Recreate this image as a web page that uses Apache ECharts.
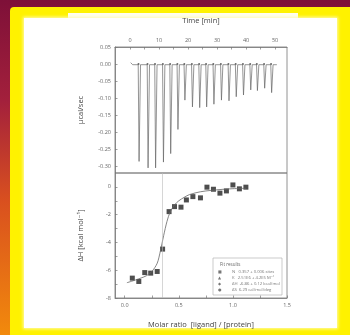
<!DOCTYPE html>
<html>
<head>
<meta charset="utf-8">
<script src="https://cdn.jsdelivr.net/npm/echarts@6/dist/echarts.min.js"></script>
<style>
  html, body { margin: 0; padding: 0; }
  body {
    width: 350px; height: 335px; overflow: hidden; position: relative;
    background: linear-gradient(180deg, #7e1038 0%, #a3203c 30%, #d9501f 60%, #f28a0c 100%);
  }
  #yellow { position: absolute; left: 10px; top: 7px; width: 345px; height: 335px; background: #fff200; border-radius: 4px 0 0 0; }
  #white { position: absolute; left: 24px; top: 18px; width: 313px; height: 310px; background: #fff; box-shadow: 0 0 3px 1px #fffbb0; }
  #white2 { position: absolute; left: 68px; top: 13px; width: 230px; height: 10px; background: #fffef0; }
  #chart { position: absolute; left: 0; top: 0; width: 350px; height: 335px; filter: blur(0.5px); }
</style>
</head>
<body>
<div id="yellow"></div>
<div id="white2"></div>
<div id="white"></div>
<div id="chart"></div>
<script>
// raw thermogram: injection times (min) and peak heights (µcal/sec)
const injTimes = [2.9, 6.0, 8.6, 11.3, 13.8, 16.3, 18.7, 21.3, 23.8, 26.2, 28.7, 31.3, 33.9, 36.4, 38.9, 41.4, 43.7, 46.2, 48.6];
const injPeaks = [-0.286, -0.305, -0.305, -0.288, -0.263, -0.192, -0.106, -0.126, -0.128, -0.126, -0.118, -0.106, -0.108, -0.096, -0.091, -0.076, -0.078, -0.071, -0.084];

// integrated heats
const molarRatio = [0.07, 0.13, 0.185, 0.24, 0.30, 0.35, 0.41, 0.46, 0.52, 0.57, 0.63, 0.70, 0.76, 0.82, 0.88, 0.94, 1.00, 1.06, 1.12];
const deltaH = [-6.57, -6.81, -6.17, -6.21, -6.09, -4.48, -1.78, -1.42, -1.46, -0.94, -0.70, -0.79, -0.02, -0.17, -0.45, -0.29, 0.14, -0.14, -0.02];

// fitted curve
const fitX = [0.02, 0.10, 0.20, 0.25, 0.30, 0.33, 0.36, 0.39, 0.42, 0.46, 0.50, 0.55, 0.60, 0.70, 0.80, 0.90, 1.00, 1.12];
const fitY = [-6.9, -6.7, -6.4, -6.1, -5.5, -4.6, -3.5, -2.5, -1.8, -1.3, -1.0, -0.75, -0.55, -0.35, -0.25, -0.18, -0.13, -0.10];

const timeTicks = [0, 10, 20, 30, 40, 50];
const powerTicks = [0.05, 0, -0.05, -0.10, -0.15, -0.20, -0.25, -0.30];
const ratioTicks = [0, 0.5, 1.0, 1.5];
const heatTicks = [-8, -6, -4, -2, 0];
const stoich = 0.35;

const legendTitle = 'Fit results';
const legendRows = [
  ['\u25A0', 'N   0.357 \u00B1 0.006 sites'],
  ['\u25B2', 'K   2.51E6 \u00B1 4.2E5 M\u207B\u00B9'],
  ['\u25C6', '\u0394H  -6.86 \u00B1 0.12 kcal/mol'],
  ['\u25CF', '\u0394S  6.29 cal/mol/deg']
];

// trace built from the read peaks
const base = -0.002;
const trace = [[0.2, 0.004], [0.5, 0.009], [0.9, base]];
injTimes.forEach((t, i) => {
  trace.push([t - 0.1, base], [t + 0.2, injPeaks[i]], [t + 0.7, base]);
});
trace.push([50.6, base]);

const font = 'Open Sans, DejaVu Sans, sans-serif';
const axisLine = { show: true, onZero: false, lineStyle: { color: '#777', width: 0.8 } };
const tick = { show: true, inside: true, length: 2.5, lineStyle: { color: '#777', width: 0.7 } };
const lbl = { color: '#666', fontSize: 5.5, fontFamily: font, margin: 4 };
const nameStyle = { color: '#444', fontSize: 7.5, fontFamily: font };

const chart = echarts.init(document.getElementById('chart'), null, { renderer: 'canvas' });
chart.setOption({
  animation: false,
  backgroundColor: 'transparent',
  grid: [
    { left: 115, top: 47, width: 172, height: 126, show: true, borderColor: '#777', borderWidth: 0.8, backgroundColor: 'transparent' },
    { left: 115, top: 173, width: 172, height: 125, show: true, borderColor: '#777', borderWidth: 0.8, backgroundColor: 'transparent' }
  ],
  xAxis: [
    {
      gridIndex: 0, type: 'value', position: 'top', min: -5.2, max: 54.1,
      name: 'Time [min]', nameLocation: 'middle', nameGap: 22, nameTextStyle: nameStyle,
      axisLine, splitLine: { show: false },
      axisTick: Object.assign({}, tick, { customValues: [0, 5, 10, 15, 20, 25, 30, 35, 40, 45, 50] }),
      axisLabel: Object.assign({}, lbl, { customValues: timeTicks })
    },
    {
      gridIndex: 1, type: 'value', position: 'bottom', min: -0.09, max: 1.5,
      name: 'Molar ratio  [ligand] / [protein]', nameLocation: 'middle', nameGap: 23, nameTextStyle: nameStyle,
      axisLine, splitLine: { show: false },
      axisTick: Object.assign({}, tick, { customValues: [0, 0.25, 0.5, 0.75, 1.0, 1.25, 1.5] }),
      axisLabel: Object.assign({}, lbl, { customValues: ratioTicks, formatter: v => v.toFixed(1) })
    }
  ],
  yAxis: [
    {
      gridIndex: 0, type: 'value', position: 'left', min: -0.32, max: 0.05,
      name: '\u00B5cal/sec', nameLocation: 'middle', nameGap: 30, nameTextStyle: nameStyle,
      axisLine, splitLine: { show: false },
      axisTick: Object.assign({}, tick, { customValues: powerTicks }),
      axisLabel: Object.assign({}, lbl, { customValues: powerTicks, formatter: v => v.toFixed(2) })
    },
    {
      gridIndex: 1, type: 'value', position: 'left', min: -8, max: 1,
      name: '\u0394H [kcal mol\u207B\u00B9]', nameLocation: 'middle', nameGap: 30, nameTextStyle: nameStyle,
      axisLine, splitLine: { show: false },
      axisTick: Object.assign({}, tick, { customValues: [-8, -7, -6, -5, -4, -3, -2, -1, 0] }),
      axisLabel: Object.assign({}, lbl, { customValues: heatTicks })
    }
  ],
  series: [
    {
      type: 'line', xAxisIndex: 0, yAxisIndex: 0, data: trace, symbol: 'none',
      lineStyle: { color: '#666', width: 0.7 }
    },
    {
      type: 'scatter', xAxisIndex: 0, yAxisIndex: 0, symbol: 'circle', symbolSize: 2,
      data: injTimes.map(t => [t, 0]), itemStyle: { color: '#444' }
    },
    {
      type: 'line', xAxisIndex: 1, yAxisIndex: 1, data: fitX.map((x, i) => [x, fitY[i]]),
      symbol: 'none', smooth: 0.3, lineStyle: { color: '#666', width: 0.8 },
      markLine: {
        silent: true, symbol: 'none', label: { show: false },
        lineStyle: { color: '#bbb', width: 0.6, type: 'solid' },
        data: [{ xAxis: stoich }]
      }
    },
    {
      type: 'scatter', xAxisIndex: 1, yAxisIndex: 1, data: molarRatio.map((x, i) => [x, deltaH[i]]),
      symbol: 'rect', symbolSize: 5, itemStyle: { color: '#222' }
    }
  ],
  graphic: [
    { type: 'rect', shape: { x: 213, y: 258, width: 69, height: 37 }, style: { fill: '#fff', stroke: '#aaa', lineWidth: 0.6 }, z: 10 },
    { type: 'text', x: 220, y: 262, style: { text: legendTitle, fontSize: 4.5, fill: '#666', fontFamily: font }, z: 11 }
  ].concat(legendRows.flatMap((r, i) => [
    { type: 'text', x: 218, y: 270 + i * 6, style: { text: r[0], fontSize: 4, fill: '#777', fontFamily: font }, z: 11 },
    { type: 'text', x: 232, y: 270 + i * 6, style: { text: r[1], fontSize: 4.2, fill: '#777', fontFamily: font }, z: 11 }
  ]))
});
</script>
</body>
</html>
